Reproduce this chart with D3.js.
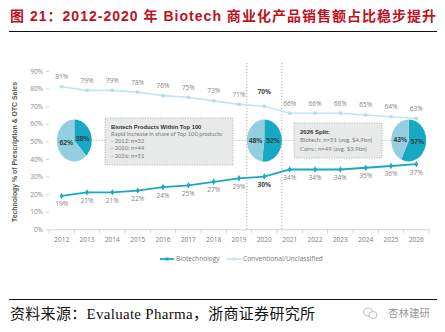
<!DOCTYPE html>
<html lang="zh">
<head>
<meta charset="UTF-8" />
<title>Biotech share chart</title>
<script src="https://d3js.org/d3.v7.min.js"></script>
<style>
  body, html { margin: 0; padding: 0; background: #fff; }
  svg { display: block; }
  .lbl { font-family: "Open Sans", sans-serif; fill: #858585; }
</style>
</head>
<body>
<div id="chart"></div>
<script>
const years = ["2012","2013","2014","2015","2016","2017","2018","2019","2020","2021","2022","2023","2024","2025","2026"];
const biotech = [19,21,21,22,24,25,27,29,30,34,34,34,35,36,37];
const conventional = [81,79,79,78,76,75,73,71,70,66,66,66,65,64,63];
const yTicks = [0,10,20,30,40,50,60,70,80,90];

const pieYears = ["2012","2020","2026"];
const pieBiotech = [38,52,57];
const pieConv = [62,48,43];

const box1Lines = ["Biotech Products Within Top 100", "Rapid increase in share of Top 100 products:", "- 2012: n=32", "- 2020: n=44", "- 2026: n=51"];
const box2Lines = ["2026 Split:", "Biotech: n=51 (avg. $4.9bn)", "Conv.: n=49 (avg. $3.9bn)"];

const W = 445, H = 332;
const darkC = "#17a9c4", lightC = "#c3e5ee", pieLight = "#94cfe1";

const svg = d3.select("#chart").append("svg").attr("width", W).attr("height", H);

// title
svg.append("text")
  .attr("x", 10).attr("y", 20.5)
  .attr("textLength", 426).attr("lengthAdjust", "spacing")
  .style("font-family", "Arial, 'Liberation Sans', 'Noto Sans CJK SC', sans-serif")
  .style("font-weight", "bold").style("font-size", "14px").style("fill", "#c0101e")
  .text("图 21：2012-2020 年 Biotech 商业化产品销售额占比稳步提升");
svg.append("line").attr("x1", 9).attr("x2", 437).attr("y1", 31.5).attr("y2", 31.5)
  .attr("stroke", "#111").attr("stroke-width", 1.2);

const x = d3.scaleBand().domain(years).range([49, 429]).padding(0);
const y = d3.scaleLinear().domain([0, 90]).range([229.3, 71]);
const cx = d => x(d) + x.bandwidth() / 2;

const g = svg.append("g");

// y axis
const yAxis = g.append("g").attr("transform", "translate(49,0)")
  .call(d3.axisLeft(y).tickValues(yTicks).tickFormat(d => d + "%").tickSize(3).tickPadding(3));
yAxis.select(".domain").remove();
yAxis.selectAll("line").attr("stroke", "#d4d4d4");
yAxis.selectAll("text").attr("class", "lbl").style("font-size", "6.5px").style("fill", "#8a8a8a");

// x axis
const xAxis = g.append("g").attr("transform", `translate(0,${y(0)})`)
  .call(d3.axisBottom(x).tickSize(0).tickPadding(8));
xAxis.select(".domain").attr("stroke", "#d4d4d4");
xAxis.selectAll("text").attr("class", "lbl").style("font-size", "6.5px").style("fill", "#7a7a7a");
g.selectAll(".xtick").data(years.concat(["end"])).join("line")
  .attr("x1", (d, i) => 49 + i * x.bandwidth()).attr("x2", (d, i) => 49 + i * x.bandwidth())
  .attr("y1", y(0)).attr("y2", y(0) + 4).attr("stroke", "#d4d4d4");

// y axis title
svg.append("text")
  .attr("transform", "translate(17,152) rotate(-90)")
  .attr("text-anchor", "middle")
  .style("font-family", "Arial, 'Liberation Sans', sans-serif")
  .style("font-weight", "bold").style("font-size", "6.9px").style("fill", "#555")
  .text("Technology % of Prescription & OTC Sales");

// pie geometry
const ry = 21, rx = 17.5;
const pieOffset = [0.5, 0, -0.3];
const pieCy = 140.5;
const pieX = pieYears.map((yr, i) => cx(yr) + pieOffset[i] * x.bandwidth());

// dotted vertical lines around the 2020 pie
[pieX[1] - rx, pieX[1] + rx].forEach(vx => {
  g.append("line").attr("x1", vx).attr("x2", vx).attr("y1", 63).attr("y2", y(0))
    .attr("stroke", "#9a9a9a").attr("stroke-width", 0.8).attr("stroke-dasharray", "1.2,1.8");
});

// dotted connector line
g.append("line").attr("x1", pieX[0]).attr("x2", pieX[2]).attr("y1", pieCy).attr("y2", pieCy)
  .attr("stroke", "#bdbdbd").attr("stroke-width", 0.9).attr("stroke-dasharray", "1.2,1.5");

// boxes
function drawBox(x0, y0, w, h, lines, lh, fs, top) {
  g.append("rect").attr("x", x0).attr("y", y0).attr("width", w).attr("height", h)
    .attr("fill", "#e8e9e9").attr("stroke", "#a8a8a8").attr("stroke-width", 0.8)
    .attr("stroke-dasharray", "1.2,1.3");
  lines.forEach((t, i) => {
    g.append("text").attr("x", x0 + 6).attr("y", y0 + top + i * lh)
      .style("font-family", i === 0 ? "Arial, 'Liberation Sans', sans-serif" : "Lato, sans-serif")
      .style("font-weight", i === 0 ? "bold" : "normal")
      .style("font-size", fs + "px")
      .style("fill", i === 0 ? "#333" : "#7d7d7d")
      .text(t);
  });
}
drawBox(105, 118, 128, 47, box1Lines, 7.3, 5.8, 10.5);
drawBox(294, 123, 88, 35, box2Lines, 8.8, 6, 10.5);

// pies
const pie = d3.pie().sort(null);
const arc = d3.arc().innerRadius(0).outerRadius(ry);
pieYears.forEach((yr, i) => {
  const pg = g.append("g").attr("transform", `translate(${pieX[i]},${pieCy})`);
  const inner = pg.append("g").attr("transform", `scale(${rx / ry},1)`);
  const slices = pie([pieBiotech[i], pieConv[i]]);
  inner.selectAll("path").data(slices).join("path")
    .attr("d", arc)
    .attr("fill", (d, j) => j === 0 ? darkC : pieLight);
  slices.forEach((s, j) => {
    const c = arc.centroid(s);
    pg.append("text")
      .attr("x", c[0] * rx / ry).attr("y", c[1] * 0.6)
      .attr("dy", "0.35em").attr("text-anchor", "middle")
      .style("font-family", "Arial, 'Liberation Sans', sans-serif")
      .style("font-weight", "bold").style("font-size", "6.8px").style("fill", "#2f3b40")
      .text((j === 0 ? pieBiotech[i] : pieConv[i]) + "%");
  });
});

// lines
const lineGen = vals => d3.line().x((d, i) => cx(years[i])).y(d => y(d))(vals);
g.append("path").attr("d", lineGen(conventional)).attr("fill", "none")
  .attr("stroke", lightC).attr("stroke-width", 1.6);
g.append("path").attr("d", lineGen(biotech)).attr("fill", "none")
  .attr("stroke", darkC).attr("stroke-width", 1.8);

g.selectAll(".mc").data(conventional).join("rect")
  .attr("x", (d, i) => cx(years[i]) - 1.6).attr("y", d => y(d) - 1.6)
  .attr("width", 3.2).attr("height", 3.2).attr("fill", "#b2dde9");
g.selectAll(".mb").data(biotech).join("path")
  .attr("d", d3.symbol(d3.symbolDiamond, 12))
  .attr("transform", (d, i) => `translate(${cx(years[i])},${y(d)})`)
  .attr("fill", darkC);

// value labels
g.selectAll(".lc").data(conventional).join("text")
  .attr("class", "lbl")
  .attr("x", (d, i) => cx(years[i]))
  .attr("y", (d, i) => y(d) - (years[i] === "2020" ? 12 : 7.5))
  .attr("text-anchor", "middle")
  .style("font-size", "6.6px")
  .style("font-weight", (d, i) => years[i] === "2020" ? "bold" : "normal")
  .style("fill", (d, i) => years[i] === "2020" ? "#444" : "#858585")
  .text(d => d + "%");
g.selectAll(".lb").data(biotech).join("text")
  .attr("class", "lbl")
  .attr("x", (d, i) => cx(years[i]))
  .attr("y", d => y(d) + 10.5)
  .attr("text-anchor", "middle")
  .style("font-size", "6.6px")
  .style("font-weight", (d, i) => years[i] === "2020" ? "bold" : "normal")
  .style("fill", (d, i) => years[i] === "2020" ? "#444" : "#858585")
  .text(d => d + "%");

// legend
const legend = [{name: "Biotechnology", color: darkC, x: 160}, {name: "Conventional/Unclassified", color: lightC, x: 227}];
legend.forEach(l => {
  g.append("line").attr("x1", l.x).attr("x2", l.x + 14).attr("y1", 259).attr("y2", 259)
    .attr("stroke", l.color).attr("stroke-width", 1.8);
  g.append("rect").attr("x", l.x + 5.5).attr("y", 257.5).attr("width", 3).attr("height", 3).attr("fill", l.color);
  g.append("text").attr("class", "lbl").attr("x", l.x + 16).attr("y", 259).attr("dy", "0.35em")
    .style("font-size", "6.6px").style("fill", "#777").text(l.name);
});

// footer
svg.append("line").attr("x1", 9).attr("x2", 437).attr("y1", 299.5).attr("y2", 299.5)
  .attr("stroke", "#111").attr("stroke-width", 1);
svg.append("text").attr("x", 10).attr("y", 318.5)
  .attr("textLength", 305).attr("lengthAdjust", "spacing")
  .style("font-family", "'Liberation Serif', 'Times New Roman', 'Noto Sans CJK SC', serif")
  .style("font-size", "15px").style("fill", "#111")
  .text("资料来源：Evaluate Pharma，浙商证券研究所");

// watermark
const wm = svg.append("g").attr("transform", "translate(370,313)");
wm.append("ellipse").attr("cx", -2).attr("cy", -1).attr("rx", 4.5).attr("ry", 4)
  .attr("fill", "none").attr("stroke", "#aaa").attr("stroke-width", 0.8);
wm.append("ellipse").attr("cx", 3).attr("cy", 2).attr("rx", 4).attr("ry", 3.5)
  .attr("fill", "#fff").attr("stroke", "#aaa").attr("stroke-width", 0.8);
svg.append("text").attr("x", 388).attr("y", 317)
  .style("font-family", "'Noto Sans CJK SC', sans-serif")
  .style("font-size", "10.5px").style("fill", "#9a9a9a")
  .text("杏林建研");
</script>
</body>
</html>
